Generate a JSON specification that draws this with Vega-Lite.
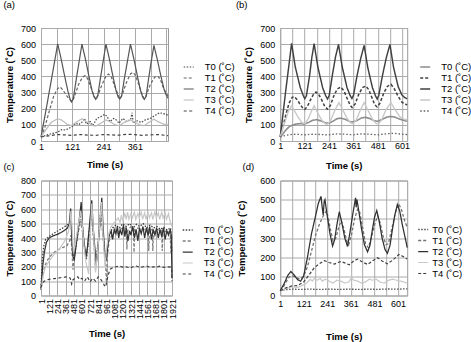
{
"$schema":"https://vega.github.io/schema/vega-lite/v6.json",
"padding":{"left":2,"top":-1,"right":0,"bottom":0},
"bounds":"flush",
"columns":2,
"spacing":{"row":39.5,"column":108.2},
"config":{
"font":"Liberation Sans",
"view":{"stroke":"#9a9a9a","strokeWidth":1},
"axis":{"gridColor":"#aaaaaa","gridWidth":1,"domain":false,"ticks":false,"tickSize":0,"labelFont":"Liberation Sans","labelFontSize":9,"labelColor":"#000","titleFont":"Liberation Sans","titleFontSize":9.5,"titleFontWeight":"bold","titleColor":"#000","labelFlush":false,"labelOverlap":false},
"title":{"font":"Liberation Sans","fontSize":9.5,"fontWeight":"normal","anchor":"start","frame":"group","color":"#000"},
"legend":{"symbolType":"stroke","symbolSize":100,"labelFont":"Liberation Sans","labelFontSize":9.5,"labelColor":"#000","rowPadding":0,"padding":0,"orient":"none"},
"line":{"strokeCap":"butt"}
},
"resolve":{"scale":{"color":"independent","strokeDash":"independent","strokeWidth":"independent","x":"independent","y":"independent"},"legend":{"color":"independent","strokeDash":"independent","strokeWidth":"independent"}},
"datasets":{
"a":[
{"s":"T0","t":1,"v":25},{"s":"T0","t":20,"v":35},{"s":"T0","t":40,"v":45},{"s":"T0","t":65,"v":55},{"s":"T0","t":80,"v":70},{"s":"T0","t":95,"v":68},{"s":"T0","t":110,"v":80},{"s":"T0","t":125,"v":95},{"s":"T0","t":135,"v":110},{"s":"T0","t":145,"v":100},{"s":"T0","t":160,"v":120},{"s":"T0","t":168,"v":140},{"s":"T0","t":175,"v":105},{"s":"T0","t":190,"v":120},{"s":"T0","t":200,"v":95},{"s":"T0","t":215,"v":140},{"s":"T0","t":230,"v":150},{"s":"T0","t":245,"v":165},{"s":"T0","t":255,"v":150},{"s":"T0","t":265,"v":120},{"s":"T0","t":280,"v":140},{"s":"T0","t":290,"v":130},{"s":"T0","t":300,"v":110},{"s":"T0","t":315,"v":140},{"s":"T0","t":330,"v":120},{"s":"T0","t":345,"v":135},{"s":"T0","t":350,"v":175},{"s":"T0","t":355,"v":110},{"s":"T0","t":370,"v":125},{"s":"T0","t":385,"v":115},{"s":"T0","t":400,"v":130},{"s":"T0","t":420,"v":140},{"s":"T0","t":440,"v":160},{"s":"T0","t":455,"v":175},{"s":"T0","t":470,"v":170},{"s":"T0","t":488,"v":160},
{"s":"T1","t":1,"v":25},{"s":"T1","t":15,"v":80},{"s":"T1","t":30,"v":170},{"s":"T1","t":50,"v":280},{"s":"T1","t":65,"v":325},{"s":"T1","t":75,"v":335},{"s":"T1","t":85,"v":315},{"s":"T1","t":100,"v":280},{"s":"T1","t":112,"v":255},{"s":"T1","t":118,"v":245},{"s":"T1","t":128,"v":270},{"s":"T1","t":145,"v":350},{"s":"T1","t":160,"v":395},{"s":"T1","t":170,"v":405},{"s":"T1","t":180,"v":385},{"s":"T1","t":195,"v":320},{"s":"T1","t":205,"v":275},{"s":"T1","t":211,"v":262},{"s":"T1","t":220,"v":285},{"s":"T1","t":235,"v":350},{"s":"T1","t":250,"v":400},{"s":"T1","t":260,"v":415},{"s":"T1","t":270,"v":400},{"s":"T1","t":285,"v":335},{"s":"T1","t":297,"v":285},{"s":"T1","t":303,"v":262},{"s":"T1","t":312,"v":285},{"s":"T1","t":328,"v":360},{"s":"T1","t":344,"v":415},{"s":"T1","t":352,"v":425},{"s":"T1","t":362,"v":410},{"s":"T1","t":378,"v":340},{"s":"T1","t":390,"v":285},{"s":"T1","t":397,"v":262},{"s":"T1","t":405,"v":285},{"s":"T1","t":420,"v":350},{"s":"T1","t":437,"v":395},{"s":"T1","t":448,"v":402},{"s":"T1","t":458,"v":385},{"s":"T1","t":470,"v":330},{"s":"T1","t":481,"v":295},{"s":"T1","t":488,"v":280},
{"s":"T2","t":1,"v":25},{"s":"T2","t":20,"v":190},{"s":"T2","t":42,"v":390},{"s":"T2","t":65,"v":602},{"s":"T2","t":78,"v":510},{"s":"T2","t":92,"v":400},{"s":"T2","t":104,"v":310},{"s":"T2","t":112,"v":262},{"s":"T2","t":118,"v":242},{"s":"T2","t":125,"v":262},{"s":"T2","t":135,"v":370},{"s":"T2","t":146,"v":480},{"s":"T2","t":158,"v":600},{"s":"T2","t":171,"v":510},{"s":"T2","t":185,"v":400},{"s":"T2","t":197,"v":310},{"s":"T2","t":205,"v":272},{"s":"T2","t":211,"v":258},{"s":"T2","t":218,"v":275},{"s":"T2","t":228,"v":380},{"s":"T2","t":239,"v":490},{"s":"T2","t":250,"v":600},{"s":"T2","t":263,"v":510},{"s":"T2","t":277,"v":400},{"s":"T2","t":289,"v":310},{"s":"T2","t":297,"v":272},{"s":"T2","t":303,"v":260},{"s":"T2","t":310,"v":277},{"s":"T2","t":320,"v":380},{"s":"T2","t":332,"v":490},{"s":"T2","t":344,"v":600},{"s":"T2","t":357,"v":510},{"s":"T2","t":371,"v":400},{"s":"T2","t":383,"v":310},{"s":"T2","t":391,"v":272},{"s":"T2","t":397,"v":258},{"s":"T2","t":404,"v":275},{"s":"T2","t":413,"v":380},{"s":"T2","t":423,"v":485},{"s":"T2","t":434,"v":592},{"s":"T2","t":447,"v":505},{"s":"T2","t":461,"v":400},{"s":"T2","t":473,"v":320},{"s":"T2","t":481,"v":285},{"s":"T2","t":488,"v":265},
{"s":"T3","t":1,"v":25},{"s":"T3","t":20,"v":70},{"s":"T3","t":40,"v":115},{"s":"T3","t":65,"v":138},{"s":"T3","t":80,"v":130},{"s":"T3","t":100,"v":105},{"s":"T3","t":118,"v":95},{"s":"T3","t":135,"v":115},{"s":"T3","t":158,"v":138},{"s":"T3","t":175,"v":120},{"s":"T3","t":195,"v":100},{"s":"T3","t":210,"v":92},{"s":"T3","t":230,"v":110},{"s":"T3","t":250,"v":130},{"s":"T3","t":265,"v":120},{"s":"T3","t":285,"v":100},{"s":"T3","t":302,"v":95},{"s":"T3","t":320,"v":115},{"s":"T3","t":344,"v":130},{"s":"T3","t":360,"v":118},{"s":"T3","t":380,"v":100},{"s":"T3","t":396,"v":95},{"s":"T3","t":415,"v":115},{"s":"T3","t":434,"v":135},{"s":"T3","t":450,"v":120},{"s":"T3","t":470,"v":105},{"s":"T3","t":488,"v":100},
{"s":"T4","t":1,"v":25},{"s":"T4","t":30,"v":32},{"s":"T4","t":60,"v":40},{"s":"T4","t":90,"v":38},{"s":"T4","t":120,"v":35},{"s":"T4","t":150,"v":40},{"s":"T4","t":180,"v":37},{"s":"T4","t":210,"v":35},{"s":"T4","t":240,"v":40},{"s":"T4","t":270,"v":38},{"s":"T4","t":300,"v":36},{"s":"T4","t":330,"v":42},{"s":"T4","t":360,"v":40},{"s":"T4","t":390,"v":35},{"s":"T4","t":420,"v":38},{"s":"T4","t":450,"v":40},{"s":"T4","t":488,"v":33}
],
"b":[
{"s":"T0","t":1,"v":25},{"s":"T0","t":15,"v":45},{"s":"T0","t":30,"v":70},{"s":"T0","t":45,"v":88},{"s":"T0","t":60,"v":98},{"s":"T0","t":80,"v":105},{"s":"T0","t":100,"v":108},{"s":"T0","t":120,"v":105},{"s":"T0","t":140,"v":115},{"s":"T0","t":160,"v":128},{"s":"T0","t":180,"v":132},{"s":"T0","t":200,"v":125},{"s":"T0","t":225,"v":112},{"s":"T0","t":240,"v":110},{"s":"T0","t":260,"v":122},{"s":"T0","t":280,"v":138},{"s":"T0","t":300,"v":142},{"s":"T0","t":320,"v":135},{"s":"T0","t":345,"v":120},{"s":"T0","t":360,"v":118},{"s":"T0","t":380,"v":128},{"s":"T0","t":400,"v":142},{"s":"T0","t":420,"v":147},{"s":"T0","t":440,"v":140},{"s":"T0","t":465,"v":125},{"s":"T0","t":480,"v":122},{"s":"T0","t":500,"v":132},{"s":"T0","t":525,"v":148},{"s":"T0","t":545,"v":152},{"s":"T0","t":565,"v":148},{"s":"T0","t":590,"v":135},{"s":"T0","t":610,"v":128},{"s":"T0","t":626,"v":122},
{"s":"T1","t":1,"v":25},{"s":"T1","t":15,"v":90},{"s":"T1","t":30,"v":170},{"s":"T1","t":45,"v":235},{"s":"T1","t":60,"v":270},{"s":"T1","t":70,"v":275},{"s":"T1","t":85,"v":255},{"s":"T1","t":100,"v":225},{"s":"T1","t":112,"v":205},{"s":"T1","t":122,"v":196},{"s":"T1","t":135,"v":215},{"s":"T1","t":150,"v":255},{"s":"T1","t":165,"v":290},{"s":"T1","t":177,"v":303},{"s":"T1","t":190,"v":290},{"s":"T1","t":205,"v":255},{"s":"T1","t":220,"v":215},{"s":"T1","t":234,"v":197},{"s":"T1","t":248,"v":220},{"s":"T1","t":265,"v":280},{"s":"T1","t":282,"v":322},{"s":"T1","t":299,"v":334},{"s":"T1","t":315,"v":310},{"s":"T1","t":330,"v":265},{"s":"T1","t":345,"v":222},{"s":"T1","t":355,"v":207},{"s":"T1","t":370,"v":230},{"s":"T1","t":388,"v":290},{"s":"T1","t":405,"v":330},{"s":"T1","t":422,"v":340},{"s":"T1","t":437,"v":318},{"s":"T1","t":452,"v":270},{"s":"T1","t":466,"v":225},{"s":"T1","t":478,"v":211},{"s":"T1","t":492,"v":235},{"s":"T1","t":510,"v":295},{"s":"T1","t":528,"v":338},{"s":"T1","t":546,"v":351},{"s":"T1","t":562,"v":325},{"s":"T1","t":580,"v":280},{"s":"T1","t":600,"v":240},{"s":"T1","t":615,"v":228},{"s":"T1","t":626,"v":225},
{"s":"T2","t":1,"v":25},{"s":"T2","t":15,"v":170},{"s":"T2","t":30,"v":330},{"s":"T2","t":45,"v":480},{"s":"T2","t":57,"v":605},{"s":"T2","t":75,"v":460},{"s":"T2","t":100,"v":330},{"s":"T2","t":115,"v":280},{"s":"T2","t":122,"v":262},{"s":"T2","t":130,"v":280},{"s":"T2","t":145,"v":400},{"s":"T2","t":157,"v":520},{"s":"T2","t":168,"v":603},{"s":"T2","t":186,"v":460},{"s":"T2","t":210,"v":330},{"s":"T2","t":225,"v":280},{"s":"T2","t":234,"v":260},{"s":"T2","t":242,"v":282},{"s":"T2","t":258,"v":410},{"s":"T2","t":273,"v":520},{"s":"T2","t":288,"v":598},{"s":"T2","t":306,"v":460},{"s":"T2","t":330,"v":330},{"s":"T2","t":345,"v":282},{"s":"T2","t":354,"v":263},{"s":"T2","t":362,"v":285},{"s":"T2","t":380,"v":410},{"s":"T2","t":397,"v":510},{"s":"T2","t":414,"v":592},{"s":"T2","t":432,"v":455},{"s":"T2","t":455,"v":330},{"s":"T2","t":470,"v":280},{"s":"T2","t":478,"v":260},{"s":"T2","t":486,"v":282},{"s":"T2","t":505,"v":410},{"s":"T2","t":523,"v":515},{"s":"T2","t":541,"v":598},{"s":"T2","t":559,"v":455},{"s":"T2","t":582,"v":335},{"s":"T2","t":600,"v":285},{"s":"T2","t":615,"v":268},{"s":"T2","t":626,"v":262},
{"s":"T3","t":1,"v":25},{"s":"T3","t":20,"v":100},{"s":"T3","t":40,"v":180},{"s":"T3","t":57,"v":218},{"s":"T3","t":70,"v":190},{"s":"T3","t":90,"v":145},{"s":"T3","t":110,"v":112},{"s":"T3","t":125,"v":110},{"s":"T3","t":140,"v":140},{"s":"T3","t":155,"v":185},{"s":"T3","t":168,"v":218},{"s":"T3","t":185,"v":175},{"s":"T3","t":205,"v":130},{"s":"T3","t":225,"v":105},{"s":"T3","t":235,"v":104},{"s":"T3","t":250,"v":130},{"s":"T3","t":270,"v":190},{"s":"T3","t":290,"v":238},{"s":"T3","t":310,"v":190},{"s":"T3","t":330,"v":140},{"s":"T3","t":350,"v":110},{"s":"T3","t":360,"v":108},{"s":"T3","t":375,"v":130},{"s":"T3","t":395,"v":190},{"s":"T3","t":414,"v":238},{"s":"T3","t":435,"v":185},{"s":"T3","t":455,"v":135},{"s":"T3","t":475,"v":106},{"s":"T3","t":485,"v":106},{"s":"T3","t":500,"v":130},{"s":"T3","t":522,"v":195},{"s":"T3","t":546,"v":238},{"s":"T3","t":566,"v":195},{"s":"T3","t":590,"v":150},{"s":"T3","t":610,"v":135},{"s":"T3","t":626,"v":130},
{"s":"T4","t":1,"v":25},{"s":"T4","t":20,"v":32},{"s":"T4","t":50,"v":40},{"s":"T4","t":80,"v":42},{"s":"T4","t":120,"v":38},{"s":"T4","t":160,"v":42},{"s":"T4","t":200,"v":40},{"s":"T4","t":240,"v":38},{"s":"T4","t":280,"v":44},{"s":"T4","t":320,"v":42},{"s":"T4","t":360,"v":38},{"s":"T4","t":400,"v":44},{"s":"T4","t":440,"v":42},{"s":"T4","t":480,"v":38},{"s":"T4","t":520,"v":44},{"s":"T4","t":560,"v":48},{"s":"T4","t":600,"v":42},{"s":"T4","t":626,"v":40}
],
"c":[
{"s":"T0","t":1,"v":50},{"s":"T0","t":20,"v":250},{"s":"T0","t":40,"v":340},{"s":"T0","t":70,"v":390},{"s":"T0","t":120,"v":410},{"s":"T0","t":180,"v":430},{"s":"T0","t":250,"v":450},{"s":"T0","t":320,"v":470},{"s":"T0","t":380,"v":490},{"s":"T0","t":420,"v":500},{"s":"T0","t":440,"v":560},{"s":"T0","t":460,"v":330},{"s":"T0","t":480,"v":250},{"s":"T0","t":500,"v":300},{"s":"T0","t":540,"v":420},{"s":"T0","t":580,"v":560},{"s":"T0","t":600,"v":540},{"s":"T0","t":630,"v":350},{"s":"T0","t":665,"v":250},{"s":"T0","t":700,"v":400},{"s":"T0","t":740,"v":600},{"s":"T0","t":770,"v":420},{"s":"T0","t":805,"v":230},{"s":"T0","t":840,"v":380},{"s":"T0","t":880,"v":620},{"s":"T0","t":910,"v":420},{"s":"T0","t":945,"v":260},{"s":"T0","t":970,"v":300},{"s":"T0","t":1000,"v":420},{"s":"T0","t":1050,"v":470},{"s":"T0","t":1100,"v":490},{"s":"T0","t":1150,"v":470},{"s":"T0","t":1200,"v":500},{"s":"T0","t":1250,"v":480},{"s":"T0","t":1300,"v":500},{"s":"T0","t":1350,"v":470},{"s":"T0","t":1400,"v":495},{"s":"T0","t":1450,"v":480},{"s":"T0","t":1500,"v":500},{"s":"T0","t":1550,"v":470},{"s":"T0","t":1600,"v":490},{"s":"T0","t":1650,"v":470},{"s":"T0","t":1700,"v":480},{"s":"T0","t":1750,"v":460},{"s":"T0","t":1800,"v":475},{"s":"T0","t":1850,"v":455},{"s":"T0","t":1900,"v":470},{"s":"T0","t":1921,"v":300},
{"s":"T1","t":1,"v":40},{"s":"T1","t":30,"v":150},{"s":"T1","t":60,"v":210},{"s":"T1","t":100,"v":250},{"s":"T1","t":150,"v":280},{"s":"T1","t":220,"v":310},{"s":"T1","t":300,"v":330},{"s":"T1","t":380,"v":345},{"s":"T1","t":420,"v":380},{"s":"T1","t":440,"v":420},{"s":"T1","t":470,"v":180},{"s":"T1","t":490,"v":280},{"s":"T1","t":530,"v":400},{"s":"T1","t":580,"v":520},{"s":"T1","t":610,"v":440},{"s":"T1","t":640,"v":330},{"s":"T1","t":665,"v":260},{"s":"T1","t":700,"v":380},{"s":"T1","t":740,"v":560},{"s":"T1","t":775,"v":380},{"s":"T1","t":800,"v":180},{"s":"T1","t":830,"v":320},{"s":"T1","t":880,"v":560},{"s":"T1","t":915,"v":380},{"s":"T1","t":950,"v":200},{"s":"T1","t":960,"v":90},{"s":"T1","t":975,"v":280},{"s":"T1","t":1000,"v":380},{"s":"T1","t":1040,"v":420},{"s":"T1","t":1080,"v":440},{"s":"T1","t":1120,"v":430},{"s":"T1","t":1160,"v":460},{"s":"T1","t":1200,"v":470},{"s":"T1","t":1250,"v":470},{"s":"T1","t":1260,"v":320},{"s":"T1","t":1270,"v":450},{"s":"T1","t":1320,"v":480},{"s":"T1","t":1355,"v":470},{"s":"T1","t":1365,"v":300},{"s":"T1","t":1375,"v":460},{"s":"T1","t":1430,"v":470},{"s":"T1","t":1480,"v":460},{"s":"T1","t":1570,"v":460},{"s":"T1","t":1580,"v":310},{"s":"T1","t":1590,"v":450},{"s":"T1","t":1630,"v":460},{"s":"T1","t":1640,"v":310},{"s":"T1","t":1650,"v":440},{"s":"T1","t":1700,"v":460},{"s":"T1","t":1770,"v":450},{"s":"T1","t":1778,"v":310},{"s":"T1","t":1788,"v":440},{"s":"T1","t":1850,"v":450},{"s":"T1","t":1895,"v":430},{"s":"T1","t":1905,"v":300},{"s":"T1","t":1921,"v":420},
{"s":"T2","t":1,"v":40},{"s":"T2","t":25,"v":200},{"s":"T2","t":50,"v":300},{"s":"T2","t":80,"v":370},{"s":"T2","t":120,"v":400},{"s":"T2","t":180,"v":415},{"s":"T2","t":240,"v":425},{"s":"T2","t":300,"v":440},{"s":"T2","t":350,"v":455},{"s":"T2","t":390,"v":470},{"s":"T2","t":415,"v":500},{"s":"T2","t":436,"v":605},{"s":"T2","t":450,"v":420},{"s":"T2","t":470,"v":270},{"s":"T2","t":490,"v":250},{"s":"T2","t":510,"v":330},{"s":"T2","t":540,"v":450},{"s":"T2","t":570,"v":560},{"s":"T2","t":590,"v":650},{"s":"T2","t":605,"v":500},{"s":"T2","t":630,"v":380},{"s":"T2","t":660,"v":270},{"s":"T2","t":680,"v":330},{"s":"T2","t":710,"v":480},{"s":"T2","t":745,"v":662},{"s":"T2","t":765,"v":480},{"s":"T2","t":790,"v":330},{"s":"T2","t":810,"v":215},{"s":"T2","t":830,"v":300},{"s":"T2","t":860,"v":470},{"s":"T2","t":892,"v":680},{"s":"T2","t":910,"v":480},{"s":"T2","t":935,"v":300},{"s":"T2","t":955,"v":240},{"s":"T2","t":975,"v":330},{"s":"T2","t":1000,"v":420},{"s":"T2","t":1030,"v":450},{"s":"T2","t":1050,"v":390},{"s":"T2","t":1075,"v":460},{"s":"T2","t":1100,"v":430},{"s":"T2","t":1120,"v":480},{"s":"T2","t":1140,"v":400},{"s":"T2","t":1160,"v":460},{"s":"T2","t":1185,"v":420},{"s":"T2","t":1210,"v":490},{"s":"T2","t":1230,"v":410},{"s":"T2","t":1250,"v":470},{"s":"T2","t":1275,"v":380},{"s":"T2","t":1300,"v":450},{"s":"T2","t":1320,"v":420},{"s":"T2","t":1345,"v":480},{"s":"T2","t":1370,"v":400},{"s":"T2","t":1395,"v":460},{"s":"T2","t":1420,"v":380},{"s":"T2","t":1445,"v":470},{"s":"T2","t":1470,"v":430},{"s":"T2","t":1495,"v":480},{"s":"T2","t":1520,"v":400},{"s":"T2","t":1545,"v":470},{"s":"T2","t":1570,"v":420},{"s":"T2","t":1595,"v":480},{"s":"T2","t":1620,"v":390},{"s":"T2","t":1645,"v":460},{"s":"T2","t":1670,"v":420},{"s":"T2","t":1695,"v":470},{"s":"T2","t":1720,"v":400},{"s":"T2","t":1745,"v":460},{"s":"T2","t":1770,"v":410},{"s":"T2","t":1795,"v":470},{"s":"T2","t":1820,"v":390},{"s":"T2","t":1845,"v":450},{"s":"T2","t":1870,"v":420},{"s":"T2","t":1895,"v":460},{"s":"T2","t":1910,"v":420},{"s":"T2","t":1921,"v":120},
{"s":"T3","t":1,"v":40},{"s":"T3","t":30,"v":130},{"s":"T3","t":60,"v":190},{"s":"T3","t":120,"v":240},{"s":"T3","t":200,"v":290},{"s":"T3","t":280,"v":330},{"s":"T3","t":350,"v":380},{"s":"T3","t":400,"v":440},{"s":"T3","t":425,"v":500},{"s":"T3","t":440,"v":590},{"s":"T3","t":455,"v":480},{"s":"T3","t":475,"v":300},{"s":"T3","t":500,"v":350},{"s":"T3","t":540,"v":470},{"s":"T3","t":585,"v":590},{"s":"T3","t":600,"v":520},{"s":"T3","t":630,"v":350},{"s":"T3","t":660,"v":230},{"s":"T3","t":700,"v":150},{"s":"T3","t":720,"v":400},{"s":"T3","t":745,"v":640},{"s":"T3","t":770,"v":450},{"s":"T3","t":800,"v":160},{"s":"T3","t":830,"v":300},{"s":"T3","t":870,"v":550},{"s":"T3","t":890,"v":650},{"s":"T3","t":910,"v":420},{"s":"T3","t":940,"v":200},{"s":"T3","t":960,"v":320},{"s":"T3","t":990,"v":420},{"s":"T3","t":1020,"v":470},{"s":"T3","t":1060,"v":500},{"s":"T3","t":1100,"v":520},{"s":"T3","t":1130,"v":540},{"s":"T3","t":1160,"v":510},{"s":"T3","t":1180,"v":560},{"s":"T3","t":1200,"v":520},{"s":"T3","t":1230,"v":570},{"s":"T3","t":1250,"v":530},{"s":"T3","t":1270,"v":580},{"s":"T3","t":1290,"v":530},{"s":"T3","t":1320,"v":570},{"s":"T3","t":1340,"v":540},{"s":"T3","t":1370,"v":580},{"s":"T3","t":1390,"v":530},{"s":"T3","t":1420,"v":570},{"s":"T3","t":1440,"v":540},{"s":"T3","t":1470,"v":580},{"s":"T3","t":1490,"v":530},{"s":"T3","t":1520,"v":575},{"s":"T3","t":1540,"v":530},{"s":"T3","t":1570,"v":580},{"s":"T3","t":1590,"v":540},{"s":"T3","t":1620,"v":575},{"s":"T3","t":1640,"v":530},{"s":"T3","t":1670,"v":585},{"s":"T3","t":1690,"v":540},{"s":"T3","t":1720,"v":575},{"s":"T3","t":1740,"v":530},{"s":"T3","t":1770,"v":580},{"s":"T3","t":1790,"v":540},{"s":"T3","t":1820,"v":575},{"s":"T3","t":1840,"v":530},{"s":"T3","t":1870,"v":570},{"s":"T3","t":1890,"v":520},{"s":"T3","t":1921,"v":480},
{"s":"T4","t":1,"v":55},{"s":"T4","t":20,"v":85},{"s":"T4","t":50,"v":100},{"s":"T4","t":100,"v":110},{"s":"T4","t":150,"v":115},{"s":"T4","t":200,"v":118},{"s":"T4","t":250,"v":120},{"s":"T4","t":300,"v":125},{"s":"T4","t":350,"v":128},{"s":"T4","t":400,"v":130},{"s":"T4","t":430,"v":120},{"s":"T4","t":450,"v":80},{"s":"T4","t":470,"v":110},{"s":"T4","t":500,"v":120},{"s":"T4","t":540,"v":130},{"s":"T4","t":570,"v":110},{"s":"T4","t":600,"v":120},{"s":"T4","t":640,"v":100},{"s":"T4","t":680,"v":130},{"s":"T4","t":720,"v":95},{"s":"T4","t":760,"v":120},{"s":"T4","t":800,"v":100},{"s":"T4","t":840,"v":130},{"s":"T4","t":880,"v":110},{"s":"T4","t":910,"v":90},{"s":"T4","t":930,"v":70},{"s":"T4","t":950,"v":60},{"s":"T4","t":965,"v":100},{"s":"T4","t":990,"v":150},{"s":"T4","t":1020,"v":185},{"s":"T4","t":1060,"v":195},{"s":"T4","t":1100,"v":200},{"s":"T4","t":1150,"v":205},{"s":"T4","t":1200,"v":198},{"s":"T4","t":1250,"v":200},{"s":"T4","t":1300,"v":190},{"s":"T4","t":1350,"v":200},{"s":"T4","t":1400,"v":205},{"s":"T4","t":1450,"v":195},{"s":"T4","t":1500,"v":200},{"s":"T4","t":1550,"v":205},{"s":"T4","t":1600,"v":195},{"s":"T4","t":1650,"v":200},{"s":"T4","t":1700,"v":198},{"s":"T4","t":1750,"v":205},{"s":"T4","t":1800,"v":195},{"s":"T4","t":1850,"v":200},{"s":"T4","t":1900,"v":198},{"s":"T4","t":1915,"v":190},{"s":"T4","t":1921,"v":100}
],
"d":[
{"s":"T0","t":1,"v":25},{"s":"T0","t":30,"v":30},{"s":"T0","t":60,"v":33},{"s":"T0","t":100,"v":32},{"s":"T0","t":150,"v":33},{"s":"T0","t":200,"v":32},{"s":"T0","t":250,"v":33},{"s":"T0","t":300,"v":32},{"s":"T0","t":350,"v":33},{"s":"T0","t":400,"v":32},{"s":"T0","t":450,"v":33},{"s":"T0","t":500,"v":32},{"s":"T0","t":550,"v":34},{"s":"T0","t":600,"v":33},{"s":"T0","t":648,"v":35},
{"s":"T1","t":1,"v":25},{"s":"T1","t":20,"v":50},{"s":"T1","t":45,"v":95},{"s":"T1","t":60,"v":105},{"s":"T1","t":80,"v":95},{"s":"T1","t":100,"v":85},{"s":"T1","t":120,"v":100},{"s":"T1","t":140,"v":150},{"s":"T1","t":160,"v":230},{"s":"T1","t":180,"v":310},{"s":"T1","t":200,"v":370},{"s":"T1","t":220,"v":415},{"s":"T1","t":235,"v":440},{"s":"T1","t":245,"v":410},{"s":"T1","t":258,"v":340},{"s":"T1","t":270,"v":285},{"s":"T1","t":285,"v":300},{"s":"T1","t":300,"v":360},{"s":"T1","t":312,"v":390},{"s":"T1","t":325,"v":350},{"s":"T1","t":340,"v":285},{"s":"T1","t":350,"v":265},{"s":"T1","t":365,"v":320},{"s":"T1","t":380,"v":400},{"s":"T1","t":395,"v":450},{"s":"T1","t":405,"v":440},{"s":"T1","t":420,"v":360},{"s":"T1","t":436,"v":270},{"s":"T1","t":450,"v":250},{"s":"T1","t":465,"v":300},{"s":"T1","t":482,"v":370},{"s":"T1","t":497,"v":415},{"s":"T1","t":510,"v":380},{"s":"T1","t":525,"v":310},{"s":"T1","t":540,"v":265},{"s":"T1","t":552,"v":270},{"s":"T1","t":570,"v":350},{"s":"T1","t":590,"v":440},{"s":"T1","t":605,"v":478},{"s":"T1","t":618,"v":450},{"s":"T1","t":635,"v":390},{"s":"T1","t":648,"v":355},
{"s":"T2","t":1,"v":25},{"s":"T2","t":20,"v":60},{"s":"T2","t":40,"v":105},{"s":"T2","t":55,"v":125},{"s":"T2","t":70,"v":110},{"s":"T2","t":90,"v":82},{"s":"T2","t":105,"v":75},{"s":"T2","t":120,"v":100},{"s":"T2","t":140,"v":200},{"s":"T2","t":160,"v":320},{"s":"T2","t":180,"v":410},{"s":"T2","t":195,"v":480},{"s":"T2","t":209,"v":517},{"s":"T2","t":215,"v":460},{"s":"T2","t":220,"v":420},{"s":"T2","t":225,"v":490},{"s":"T2","t":229,"v":500},{"s":"T2","t":240,"v":420},{"s":"T2","t":255,"v":320},{"s":"T2","t":268,"v":258},{"s":"T2","t":278,"v":290},{"s":"T2","t":290,"v":370},{"s":"T2","t":302,"v":437},{"s":"T2","t":315,"v":380},{"s":"T2","t":330,"v":300},{"s":"T2","t":344,"v":256},{"s":"T2","t":355,"v":320},{"s":"T2","t":370,"v":420},{"s":"T2","t":380,"v":480},{"s":"T2","t":385,"v":510},{"s":"T2","t":388,"v":460},{"s":"T2","t":392,"v":500},{"s":"T2","t":400,"v":450},{"s":"T2","t":415,"v":350},{"s":"T2","t":430,"v":265},{"s":"T2","t":446,"v":228},{"s":"T2","t":458,"v":260},{"s":"T2","t":470,"v":340},{"s":"T2","t":482,"v":410},{"s":"T2","t":493,"v":443},{"s":"T2","t":505,"v":390},{"s":"T2","t":520,"v":300},{"s":"T2","t":535,"v":240},{"s":"T2","t":547,"v":220},{"s":"T2","t":560,"v":260},{"s":"T2","t":572,"v":340},{"s":"T2","t":585,"v":420},{"s":"T2","t":598,"v":475},{"s":"T2","t":610,"v":440},{"s":"T2","t":625,"v":360},{"s":"T2","t":640,"v":290},{"s":"T2","t":648,"v":250},
{"s":"T3","t":1,"v":25},{"s":"T3","t":30,"v":35},{"s":"T3","t":60,"v":45},{"s":"T3","t":90,"v":42},{"s":"T3","t":120,"v":55},{"s":"T3","t":140,"v":70},{"s":"T3","t":155,"v":85},{"s":"T3","t":165,"v":75},{"s":"T3","t":175,"v":90},{"s":"T3","t":190,"v":80},{"s":"T3","t":205,"v":90},{"s":"T3","t":215,"v":75},{"s":"T3","t":230,"v":85},{"s":"T3","t":250,"v":75},{"s":"T3","t":270,"v":65},{"s":"T3","t":290,"v":80},{"s":"T3","t":310,"v":75},{"s":"T3","t":330,"v":65},{"s":"T3","t":350,"v":70},{"s":"T3","t":365,"v":95},{"s":"T3","t":375,"v":80},{"s":"T3","t":395,"v":75},{"s":"T3","t":415,"v":65},{"s":"T3","t":435,"v":70},{"s":"T3","t":455,"v":85},{"s":"T3","t":470,"v":80},{"s":"T3","t":490,"v":85},{"s":"T3","t":510,"v":70},{"s":"T3","t":530,"v":65},{"s":"T3","t":555,"v":80},{"s":"T3","t":575,"v":85},{"s":"T3","t":600,"v":78},{"s":"T3","t":625,"v":72},{"s":"T3","t":648,"v":65},
{"s":"T4","t":1,"v":25},{"s":"T4","t":30,"v":40},{"s":"T4","t":60,"v":50},{"s":"T4","t":90,"v":52},{"s":"T4","t":120,"v":70},{"s":"T4","t":150,"v":110},{"s":"T4","t":175,"v":145},{"s":"T4","t":200,"v":165},{"s":"T4","t":226,"v":182},{"s":"T4","t":250,"v":172},{"s":"T4","t":277,"v":164},{"s":"T4","t":295,"v":172},{"s":"T4","t":311,"v":177},{"s":"T4","t":330,"v":170},{"s":"T4","t":353,"v":160},{"s":"T4","t":375,"v":180},{"s":"T4","t":395,"v":190},{"s":"T4","t":420,"v":175},{"s":"T4","t":446,"v":162},{"s":"T4","t":470,"v":180},{"s":"T4","t":497,"v":197},{"s":"T4","t":520,"v":180},{"s":"T4","t":547,"v":165},{"s":"T4","t":575,"v":185},{"s":"T4","t":606,"v":214},{"s":"T4","t":625,"v":205},{"s":"T4","t":648,"v":190}
]
},
"concat":[
{
"width":127,"height":113,
"title":{"text":"(a)","dx":-37.6,"offset":15},
"data":{"name":"a"},
"mark":{"type":"line"},
"encoding":{
"x":{"field":"t","type":"quantitative","scale":{"domain":[1,488],"nice":false,"zero":false},"axis":{"values":[1,61,121,181,241,301,361,421,481],"labelExpr":"indexof([1,121,241,361], datum.value) >= 0 ? datum.label : ''","labelPadding":1,"title":"Time (s)","titlePadding":8}},
"y":{"field":"v","type":"quantitative","scale":{"domain":[0,700],"nice":false},"axis":{"values":[0,100,200,300,400,500,600,700],"labelPadding":5.5,"title":"Temperature (˚C)","titlePadding":6}},
"color":{"field":"s","type":"nominal","scale":{"domain":["T0","T1","T2","T3","T4"],"range":["#444444","#666666","#555555","#bbbbbb","#444444"]},"legend":{"title":null,"legendX":141.7,"legendY":33,"labelOffset":10,"labelExpr":"datum.label + ' (˚C)'"}},
"strokeDash":{"field":"s","type":"nominal","scale":{"domain":["T0","T1","T2","T3","T4"],"range":[[1.5,1.5],[3,2],[1,0],[1,0],[3,2.5]]},"legend":{"title":null,"legendX":141.7,"legendY":33,"labelOffset":10,"labelExpr":"datum.label + ' (˚C)'"}},
"strokeWidth":{"field":"s","type":"nominal","scale":{"domain":["T0","T1","T2","T3","T4"],"range":[1.2,1.2,1.2,1,1.2]},"legend":{"title":null,"legendX":141.7,"legendY":33,"labelOffset":10,"labelExpr":"datum.label + ' (˚C)'"}}
}
},
{
"width":127,"height":113,
"title":{"text":"(b)","dx":-44.3,"offset":15},
"data":{"name":"b"},
"mark":{"type":"line"},
"encoding":{
"x":{"field":"t","type":"quantitative","scale":{"domain":[1,626],"nice":false,"zero":false},"axis":{"values":[1,61,121,181,241,301,361,421,481,541,601],"labelExpr":"indexof([1,121,241,361,481,601], datum.value) >= 0 ? datum.label : ''","labelPadding":0,"title":"Time (s)","titlePadding":10.5}},
"y":{"field":"v","type":"quantitative","scale":{"domain":[0,700],"nice":false},"axis":{"values":[0,100,200,300,400,500,600,700],"labelPadding":5.5,"title":"Temperature (˚C)","titlePadding":6}},
"color":{"field":"s","type":"nominal","scale":{"domain":["T0","T1","T2","T3","T4"],"range":["#8c8c8c","#404040","#404040","#c8c8c8","#606060"]},"legend":{"title":null,"legendX":139,"legendY":33,"labelOffset":10,"labelExpr":"datum.label + ' (˚C)'"}},
"strokeDash":{"field":"s","type":"nominal","scale":{"domain":["T0","T1","T2","T3","T4"],"range":[[1,0],[3,2],[1,0],[1,0],[1.5,2]]},"legend":{"title":null,"legendX":139,"legendY":33,"labelOffset":10,"labelExpr":"datum.label + ' (˚C)'"}},
"strokeWidth":{"field":"s","type":"nominal","scale":{"domain":["T0","T1","T2","T3","T4"],"range":[1.6,1.3,1.3,1,1.2]},"legend":{"title":null,"legendX":139,"legendY":33,"labelOffset":10,"labelExpr":"datum.label + ' (˚C)'"}}
}
},
{
"width":131,"height":115,
"title":{"text":"(c)","dx":-37.6,"offset":5},
"data":{"name":"c"},
"mark":{"type":"line"},
"encoding":{
"x":{"field":"t","type":"quantitative","scale":{"domain":[1,1921],"nice":false,"zero":false},"axis":{"values":[1,121,241,361,481,601,721,841,961,1081,1201,1321,1441,1561,1681,1801,1921],"format":"d","labelAngle":-90,"labelPadding":3,"title":"Time (s)","titlePadding":10}},
"y":{"field":"v","type":"quantitative","scale":{"domain":[0,800],"nice":false},"axis":{"values":[0,100,200,300,400,500,600,700,800],"labelPadding":5.5,"title":"Temperature (˚C)","titlePadding":6}},
"color":{"field":"s","type":"nominal","scale":{"domain":["T0","T1","T2","T3","T4"],"range":["#404040","#808080","#333333","#c8c8c8","#404040"]},"legend":{"title":null,"legendX":140.7,"legendY":43.5,"labelOffset":10,"labelExpr":"datum.label + ' (˚C)'"}},
"strokeDash":{"field":"s","type":"nominal","scale":{"domain":["T0","T1","T2","T3","T4"],"range":[[1.5,1.5],[3,2],[1,0],[1,0],[3,2.5]]},"legend":{"title":null,"legendX":140.7,"legendY":43.5,"labelOffset":10,"labelExpr":"datum.label + ' (˚C)'"}},
"strokeWidth":{"field":"s","type":"nominal","scale":{"domain":["T0","T1","T2","T3","T4"],"range":[1.3,1.2,2,1,1.2]},"legend":{"title":null,"legendX":140.7,"legendY":43.5,"labelOffset":10,"labelExpr":"datum.label + ' (˚C)'"}}
}
},
{
"width":127,"height":115,
"title":{"text":"(d)","dx":-37.7,"offset":5},
"data":{"name":"d"},
"mark":{"type":"line"},
"encoding":{
"x":{"field":"t","type":"quantitative","scale":{"domain":[1,648],"nice":false,"zero":false},"axis":{"values":[1,61,121,181,241,301,361,421,481,541,601],"labelExpr":"indexof([1,121,241,361,481,601], datum.value) >= 0 ? datum.label : ''","labelPadding":4,"title":"Time (s)","titlePadding":23}},
"y":{"field":"v","type":"quantitative","scale":{"domain":[0,600],"nice":false},"axis":{"values":[0,100,200,300,400,500,600],"labelPadding":5.5,"title":"Temperature (˚C)","titlePadding":13}},
"color":{"field":"s","type":"nominal","scale":{"domain":["T0","T1","T2","T3","T4"],"range":["#505050","#707070","#303030","#c8c8c8","#404040"]},"legend":{"title":null,"legendX":137,"legendY":43,"labelOffset":3,"labelExpr":"datum.label + ' (˚C)'"}},
"strokeDash":{"field":"s","type":"nominal","scale":{"domain":["T0","T1","T2","T3","T4"],"range":[[1.5,1.5],[3,2],[1,0],[1,0],[3,2]]},"legend":{"title":null,"legendX":137,"legendY":43,"labelOffset":3,"labelExpr":"datum.label + ' (˚C)'"}},
"strokeWidth":{"field":"s","type":"nominal","scale":{"domain":["T0","T1","T2","T3","T4"],"range":[1.3,1.2,2,1,1.2]},"legend":{"title":null,"legendX":137,"legendY":43,"labelOffset":3,"labelExpr":"datum.label + ' (˚C)'"}}
}
}
]
}
